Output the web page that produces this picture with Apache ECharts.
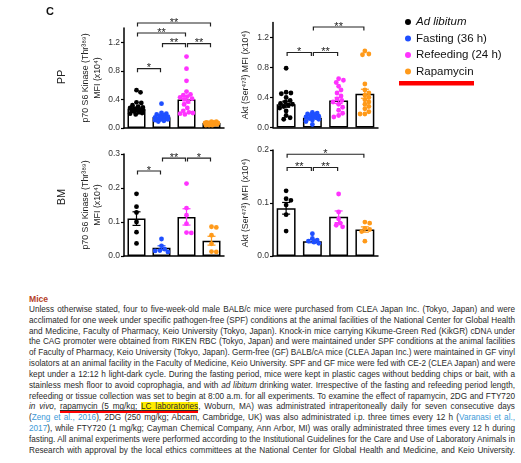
<!DOCTYPE html>
<html>
<head>
<meta charset="utf-8">
<script src="https://cdn.jsdelivr.net/npm/echarts@6/dist/echarts.min.js"></script>
<style>
  html, body { margin: 0; padding: 0; background: #fff; width: 521px; height: 463px; overflow: hidden; }
  #chart { position: absolute; left: 0; top: 0; width: 521px; height: 292px; }
  #text { position: absolute; left: 29px; top: 294px; width: 486px;
          font-family: Arial, 'Liberation Sans', sans-serif; font-size: 8.2px; line-height: 10.85px; color: #2a2a2a; }
  #text .ln { white-space: nowrap; overflow: visible; text-align: justify; text-align-last: justify; }
  #text .head { color: #b5422a; font-weight: bold; font-size: 8.6px; }
  .ref { color: #3d9ad8; }
  .hl { background: #ffec00; }
  .ul { text-decoration: underline; border-bottom: 2.5px solid #f00; }
</style>
</head>
<body>
<div id="chart"></div>
<div id="text">
  <div class="head">Mice</div>
  <div class="ln">Unless otherwise stated, four to five-week-old male BALB/c mice were purchased from CLEA Japan Inc. (Tokyo, Japan) and were</div>
  <div class="ln">acclimated for one week under specific pathogen-free (SPF) conditions at the animal facilities of the National Center for Global Health</div>
  <div class="ln">and Medicine, Faculty of Pharmacy, Keio University (Tokyo, Japan). Knock-in mice carrying Kikume-Green Red (KikGR) cDNA under</div>
  <div class="ln">the CAG promoter were obtained from RIKEN RBC (Tokyo, Japan) and were maintained under SPF conditions at the animal facilities</div>
  <div class="ln">of Faculty of Pharmacy, Keio University (Tokyo, Japan). Germ-free (GF) BALB/cA mice (CLEA Japan Inc.) were maintained in GF vinyl</div>
  <div class="ln">isolators at an animal facility in the Faculty of Medicine, Keio University. SPF and GF mice were fed with CE-2 (CLEA Japan) and were</div>
  <div class="ln">kept under a 12:12 h light-dark cycle. During the fasting period, mice were kept in plastic cages without bedding chips or bait, with a</div>
  <div class="ln">stainless mesh floor to avoid coprophagia, and with <i>ad libitum</i> drinking water. Irrespective of the fasting and refeeding period length,</div>
  <div class="ln">refeeding or tissue collection was set to begin at 8:00 a.m. for all experiments. To examine the effect of rapamycin, 2DG and FTY720</div>
  <div class="ln"><i>in vivo</i>, <span class="ul">rapamycin (5 mg/kg; <span class="hl">LC laboratories</span></span>, Woburn, MA) was administrated intraperitoneally daily for seven consecutive days</div>
  <div class="ln">(<span class="ref">Zeng et al., 2016</span>), 2DG (250 mg/kg; Abcam, Cambridge, UK) was also administrated i.p. three times every 12 h (<span class="ref">Varanasi et al.,</span></div>
  <div class="ln"><span class="ref">2017</span>), while FTY720 (1 mg/kg; Cayman Chemical Company, Ann Arbor, MI) was orally administrated three times every 12 h during</div>
  <div class="ln">fasting. All animal experiments were performed according to the Institutional Guidelines for the Care and Use of Laboratory Animals in</div>
  <div class="ln">Research with approval by the local ethics committees at the National Center for Global Health and Medicine, and Keio University.</div>
</div>
<script>
// groups (x categories) and their colours
const groups = ['Ad libitum', 'Fasting (36 h)', 'Refeeding (24 h)', 'Rapamycin'];
const groupColors = ['#000000', '#1f4fff', '#ff33ff', '#ff9a1a'];

// PP, p70 S6 kinase
const ppS6Mean = [0.27, 0.15, 0.40, 0.07];
const ppS6Sem = [0.02, 0.015, 0.05, 0.005];
const ppS6Points = [
  [0.53, 0.50, 0.36, 0.35, 0.32, 0.30, 0.29, 0.28, 0.27, 0.26, 0.25, 0.25, 0.24, 0.23, 0.22, 0.21, 0.20, 0.19],
  [0.34, 0.21, 0.20, 0.19, 0.18, 0.17, 0.16, 0.15, 0.15, 0.14, 0.13, 0.12, 0.12, 0.11, 0.10, 0.09],
  [1.00, 0.83, 0.66, 0.51, 0.47, 0.46, 0.44, 0.43, 0.41, 0.40, 0.37, 0.33, 0.28, 0.24, 0.22, 0.21, 0.20, 0.19],
  [0.09, 0.09, 0.08, 0.08, 0.07, 0.07, 0.07, 0.06, 0.06, 0.06, 0.05, 0.05, 0.05, 0.04, 0.04, 0.04]
];
const ppS6Brackets = [[0, 1, 0.83, '*'], [1, 2, 1.18, '**'], [2, 3, 1.18, '**'], [0, 2, 1.33, '**'], [0, 3, 1.47, '**']];

// PP, Akt
const ppAktMean = [0.31, 0.13, 0.36, 0.45];
const ppAktSem = [0.04, 0.01, 0.04, 0.06];
const ppAktPoints = [
  [0.79, 0.47, 0.46, 0.45, 0.40, 0.36, 0.34, 0.32, 0.31, 0.30, 0.28, 0.26, 0.22, 0.16, 0.13, 0.11],
  [0.20, 0.19, 0.18, 0.17, 0.16, 0.15, 0.14, 0.14, 0.13, 0.12, 0.11, 0.10, 0.08, 0.04],
  [0.65, 0.63, 0.60, 0.55, 0.50, 0.46, 0.42, 0.38, 0.36, 0.34, 0.31, 0.27, 0.23, 0.19, 0.16, 0.14],
  [1.02, 0.98, 0.97, 0.58, 0.50, 0.46, 0.43, 0.40, 0.37, 0.34, 0.31, 0.28, 0.25, 0.21, 0.18, 0.18]
];
const ppAktBrackets = [[0, 1, 1.0, '*'], [1, 2, 1.0, '**'], [1, 3, 1.34, '**']];

// BM, p70 S6 kinase
const bmS6Mean = [0.110, 0.024, 0.115, 0.045];
const bmS6Sem = [0.020, 0.006, 0.024, 0.013];
const bmS6Points = [
  [0.183, 0.145, 0.128, 0.100, 0.070, 0.037],
  [0.050, 0.030, 0.020, 0.016, 0.015, 0.012],
  [0.213, 0.141, 0.120, 0.095, 0.069, 0.068],
  [0.086, 0.084, 0.061, 0.036, 0.013, 0.012]
];
const bmS6Brackets = [[0, 1, 0.25, '*'], [1, 2, 0.288, '**'], [2, 3, 0.288, '*']];

// BM, Akt
const bmAktMean = [0.090, 0.028, 0.074, 0.050];
const bmAktSem = [0.011, 0.003, 0.011, 0.005];
const bmAktPoints = [
  [0.123, 0.108, 0.105, 0.096, 0.078, 0.047],
  [0.042, 0.033, 0.030, 0.028, 0.026, 0.024],
  [0.117, 0.083, 0.070, 0.062, 0.058, 0.055],
  [0.064, 0.062, 0.052, 0.050, 0.046, 0.028]
];
const bmAktBrackets = [[0, 1, 0.167, '**'], [1, 2, 0.167, '**'], [0, 3, 0.192, '*']];

// y tick labels
const ppTicks = [0, 0.4, 0.8, 1.2];
const bmS6Ticks = [0, 0.1, 0.2, 0.3];
const bmAktTicks = [0, 0.1, 0.2];

const s6Name = 'p70 S6 Kinase (Thr\u00B3\u2078\u2079)\nMFI (x10\u2074)';
const aktName = 'Akt (Ser\u2074\u2077\u00B3) MFI (x10\u2074)';

const panels = [
  { grid: { left: 124, top: 28, width: 100, height: 100 }, max: 1.4, step: 0.4, ticks: ppTicks, name: s6Name, gap: 21,
    mean: ppS6Mean, sem: ppS6Sem, points: ppS6Points, brackets: ppS6Brackets },
  { grid: { left: 273, top: 22.5, width: 105, height: 105 }, max: 1.4, step: 0.4, ticks: ppTicks, name: aktName, gap: 22,
    mean: ppAktMean, sem: ppAktSem, points: ppAktPoints, brackets: ppAktBrackets },
  { grid: { left: 124, top: 154, width: 100, height: 102 }, max: 0.3, step: 0.1, ticks: bmS6Ticks, name: s6Name, gap: 21,
    mean: bmS6Mean, sem: bmS6Sem, points: bmS6Points, brackets: bmS6Brackets },
  { grid: { left: 273, top: 150, width: 105, height: 106 }, max: 0.2, step: 0.1, ticks: bmAktTicks, name: aktName, gap: 22,
    mean: bmAktMean, sem: bmAktSem, points: bmAktPoints, brackets: bmAktBrackets }
];

// beeswarm of one group, laid out from the values through the axis
function swarmItem(values, color) {
  return function (params, api) {
    const cat = api.value(0);
    const cx = api.coord([cat, 0])[0];
    const r = 2.4;
    const halfW = api.size([1, 0])[0] * 0.36 - r;
    const ys = values.map(v => api.coord([cat, v])[1]).sort((a, b) => a - b);
    const placed = [];
    const cands = [0];
    for (let d = 0.8; d <= halfW; d += 0.8) { cands.push(d, -d); }
    ys.forEach(py => {
      let best = cands[0], bestGap = -Infinity;
      for (const dx of cands) {
        let minD = Infinity;
        placed.forEach(p => { minD = Math.min(minD, Math.hypot(p[0] - dx, p[1] - py)); });
        if (minD >= 2 * r - 0.4) { best = dx; bestGap = Infinity; break; }
        if (minD > bestGap) { bestGap = minD; best = dx; }
      }
      placed.push([best, py]);
    });
    return {
      type: 'group',
      children: placed.map(p => ({
        type: 'circle', shape: { cx: cx + p[0], cy: p[1], r: r }, style: { fill: color }
      }))
    };
  };
}

function errorItem(mean, sem) {
  return function (params, api) {
    const i = params.dataIndex;
    const top = api.coord([i, mean[i] + sem[i]]);
    const bot = api.coord([i, Math.max(0, mean[i] - sem[i])]);
    const x = top[0], w = 4;
    const st = { stroke: groupColors[i], lineWidth: 1.2 };
    return {
      type: 'group',
      children: [
        { type: 'line', shape: { x1: x, y1: top[1], x2: x, y2: bot[1] }, style: st },
        { type: 'line', shape: { x1: x - w, y1: top[1], x2: x + w, y2: top[1] }, style: st },
        { type: 'line', shape: { x1: x - w, y1: bot[1], x2: x + w, y2: bot[1] }, style: st }
      ]
    };
  };
}

function bracketItem(list) {
  return function (params, api) {
    const b = list[params.dataIndex];
    const p1 = api.coord([b[0], b[2]]);
    const p2 = api.coord([b[1], b[2]]);
    const x1 = p1[0] + 1, x2 = p2[0] - 1, y = p1[1];
    return {
      type: 'group',
      children: [
        { type: 'polyline', shape: { points: [[x1, y + 3.5], [x1, y], [x2, y], [x2, y + 3.5]] },
          style: { stroke: '#222', lineWidth: 1.2, fill: null } },
        { type: 'text', x: (x1 + x2) / 2, y: y - 0.5,
          style: { text: b[3], align: 'center', verticalAlign: 'middle', fontSize: 11, fill: '#222', fontFamily: 'Arial' } }
      ]
    };
  };
}

const chart = echarts.init(document.getElementById('chart'));

const grid = [], xAxis = [], yAxis = [], series = [];
panels.forEach((p, k) => {
  grid.push(Object.assign({ outerBoundsMode: 'none' }, p.grid));
  xAxis.push({
    type: 'category', gridIndex: k, data: groups,
    axisLine: { lineStyle: { color: '#000', width: 1.5 } },
    axisTick: { show: false }, axisLabel: { show: false }
  });
  yAxis.push({
    type: 'value', gridIndex: k, min: 0, max: p.max, interval: p.step,
    axisLine: { show: true, lineStyle: { color: '#000', width: 1.5 } },
    axisTick: { show: true, length: 3, customValues: p.ticks, lineStyle: { color: '#000', width: 1.2 } },
    axisLabel: { customValues: p.ticks, formatter: v => v.toFixed(1), fontSize: 8.5, color: '#333', margin: 4, fontFamily: 'Arial' },
    splitLine: { show: false },
    name: p.name, nameLocation: 'middle', nameRotate: 90, nameGap: p.gap,
    nameTextStyle: { fontSize: 8.8, lineHeight: 11.5, color: '#222', fontFamily: 'Arial' }
  });
  series.push({
    type: 'bar', xAxisIndex: k, yAxisIndex: k, data: p.mean, barWidth: '72%', silent: true, z: 2,
    itemStyle: { color: '#fff', borderColor: '#000', borderWidth: 1.5 }
  });
  groups.forEach((g, i) => {
    series.push({
      type: 'custom', name: g, xAxisIndex: k, yAxisIndex: k, z: 3, silent: true,
      itemStyle: { color: groupColors[i] },
      data: [[i, 0]], renderItem: swarmItem(p.points[i], groupColors[i])
    });
  });
  series.push({
    type: 'custom', xAxisIndex: k, yAxisIndex: k, z: 4, silent: true,
    data: p.mean.map((m, i) => [i, m]), renderItem: errorItem(p.mean, p.sem)
  });
  series.push({
    type: 'custom', xAxisIndex: k, yAxisIndex: k, z: 5, silent: true, clip: false,
    data: p.brackets.map(b => [b[0], b[2]]), renderItem: bracketItem(p.brackets)
  });
});

chart.setOption({
  animation: false,
  grid: grid, xAxis: xAxis, yAxis: yAxis, series: series,
  legend: {
    orient: 'vertical', left: 400, top: 11, itemGap: 4.5,
    icon: 'circle', itemWidth: 6, itemHeight: 6, itemStyle: { borderWidth: 0 },
    data: groups,
    formatter: name => name === 'Ad libitum' ? '{it|' + name + '}' : name,
    textStyle: { fontSize: 11.5, color: '#111', fontFamily: 'Arial', rich: { it: { fontStyle: 'italic', fontSize: 11.5, fontFamily: 'Arial' } } },
    selectedMode: false
  },
  graphic: [
    { type: 'text', x: 50, y: 12, style: { text: 'C', fontSize: 11, fontWeight: 'bold', fill: '#111', align: 'center', verticalAlign: 'middle', fontFamily: 'Arial' } },
    { type: 'text', x: 62, y: 77, rotation: Math.PI / 2, style: { text: 'PP', fontSize: 11, fill: '#222', align: 'center', verticalAlign: 'middle', fontFamily: 'Arial' } },
    { type: 'text', x: 62, y: 197, rotation: Math.PI / 2, style: { text: 'BM', fontSize: 11, fill: '#222', align: 'center', verticalAlign: 'middle', fontFamily: 'Arial' } },
    { type: 'rect', shape: { x: 399, y: 81, width: 75, height: 4.5 }, style: { fill: '#ff0000' } }
  ]
});

// squeeze the letter spacing of lines that are too long for the column
document.querySelectorAll('#text .ln').forEach(el => {
  let ls = 0;
  while (el.scrollWidth > el.clientWidth + 0.5 && ls > -1.5) {
    ls -= 0.05;
    el.style.letterSpacing = ls.toFixed(2) + 'px';
  }
});
</script>
</body>
</html>
